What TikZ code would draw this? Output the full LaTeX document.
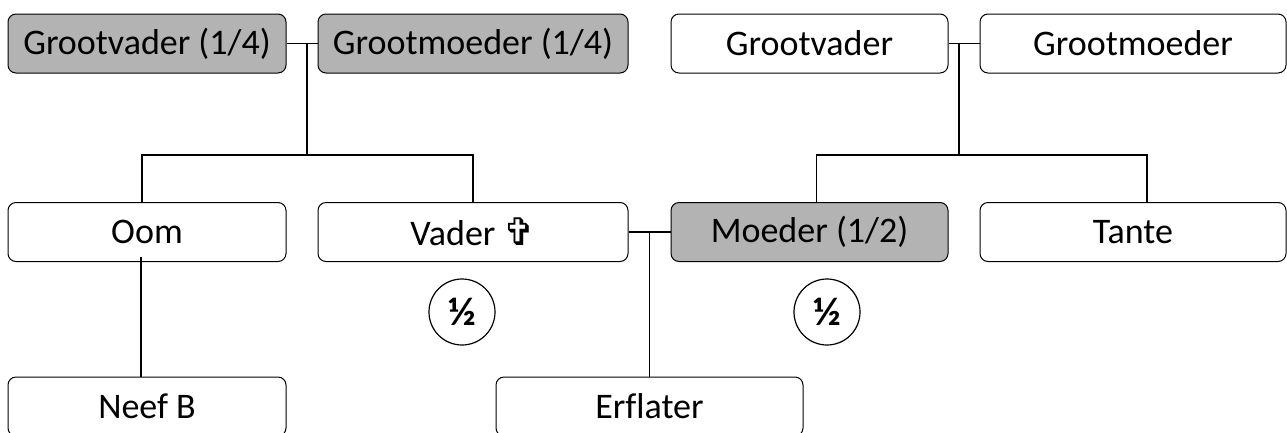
\documentclass[tikz,border=0pt]{standalone}
\usepackage{fontspec}
\setmainfont{Carlito}[Ligatures=NoCommon]
\newfontfamily\crossfont{DejaVu Sans}
\usepackage{tikz}
\definecolor{box_gray}{RGB}{179,179,179}
\definecolor{line_dark}{RGB}{0,0,0}

\begin{document}
\begin{tikzpicture}[x=1pt,y=-1pt]
    \tikzstyle{persoon}=[draw=line_dark, line width=1pt, rounded corners=8pt, minimum height=59pt, inner sep=0pt, fill=white, text=black, font=\fontsize{36}{43}\selectfont]
    \tikzstyle{erfdeel}=[style=persoon, fill=box_gray]
    \tikzstyle{link}=[draw=line_dark, line width=1.6pt]
    \tikzstyle{deel}=[draw=line_dark, line width=1.2pt, circle, minimum size=66pt, inner sep=0pt, font=\fontsize{40}{48}\bfseries\selectfont]

    \useasboundingbox (0,0) rectangle (1287,432);

    \node[erfdeel, minimum width=278pt] (gvL) at (147,43.5)   {Grootvader (1/4)};
    \node[erfdeel, minimum width=310pt] (gmL) at (473,43.5)   {Grootmoeder (1/4)};
    \node[persoon, minimum width=277pt] (gvR) at (809.5,43.5) {Grootvader};
    \node[persoon, minimum width=306pt] (gmR) at (1133,43.5)  {Grootmoeder};

    \node[persoon, minimum width=278pt] (oom)    at (147,232)   {Oom};
    \node[persoon, minimum width=310pt] (vader)  at (473,232)   {Vader {\crossfont\fontsize{38}{44}\selectfont ✞}};
    \node[erfdeel, minimum width=277pt] (moeder) at (809.5,232) {Moeder (1/2)};
    \node[persoon, minimum width=306pt] (tante)  at (1133,232)  {Tante};

    \node[persoon, minimum width=278pt] (neef)     at (147,406.5)   {Neef B};
    \node[persoon, minimum width=307pt] (erflater) at (649.5,406.5) {Erflater};

    \node[deel] (dV) at (462,312) {½};
    \node[deel] (dM) at (827,312) {½};

    \coordinate (mL) at (307,155);
    \coordinate (mR) at (959,155);

    \draw[link] (gvL.east) -- (gmL.west);
    \draw[link] (gvL.east -| mL) -- (mL);
    \draw[link] ([xshift=-5pt]oom.north) |- (mL) -| (vader.north);

    \draw[link] (gvR.east) -- (gmR.west);
    \draw[link] (gvR.east -| mR) -- (mR);
    \draw[link] ([xshift=7pt]moeder.north) |- (mR) -| ([xshift=14pt]tante.north);

    \draw[link] (vader.east) -- (moeder.west);
    \draw[link] (erflater.north) -- (erflater.north |- vader.east);

    \draw[link] ([xshift=-6pt]neef.north) -- ([xshift=-6pt,yshift=5pt]oom.south);
\end{tikzpicture}
\end{document}
